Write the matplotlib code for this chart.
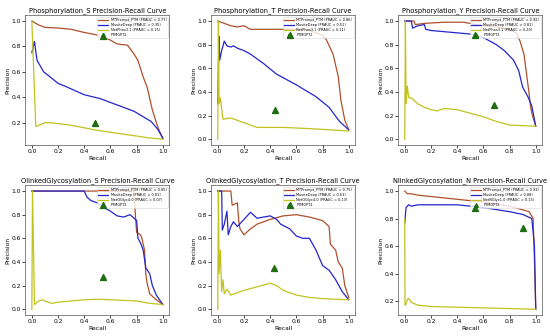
import matplotlib
matplotlib.use("Agg")
from matplotlib import pyplot as plt

# названия панелей и легенды
titles = ['Phosphorylation_S', 'Phosphorylation_T', 'Phosphorylation_Y',
          'OlinkedGlycosylation_S', 'OlinkedGlycosylation_T', 'NlinkedGlycosylation_N']
third_tool = ['NetPhos3.1', 'NetPhos3.1', 'NetPhos3.1',
              'NetOGlyc4.0', 'NetOGlyc4.0', 'NetNGlyc1.0']
auc_mtp = [0.77, 0.86, 0.92, 0.85, 0.75, 0.93]
auc_musite = [0.35, 0.51, 0.81, 0.81, 0.63, 0.88]
auc_third = [0.15, 0.11, 0.20, 0.07, 0.13, 0.15]

# MTPrompt_PTM (recall, precision)
mtp_r = [
    [0, 0.05, 0.1, 0.2, 0.3, 0.4, 0.5, 0.55, 0.6, 0.65, 0.73, 0.78, 0.81, 0.85, 0.88, 0.92, 0.96, 1.0],
    [0, 0.05, 0.1, 0.15, 0.2, 0.25, 0.4, 0.6, 0.7, 0.8, 0.83, 0.88, 0.92, 0.94, 0.97, 1.0],
    [0, 0.07, 0.08, 0.15, 0.3, 0.45, 0.5, 0.6, 0.7, 0.8, 0.85, 0.88, 0.91, 0.93, 0.95, 0.96, 0.97, 1.0],
    [0, 0.5, 0.78, 0.79, 0.8, 0.83, 0.84, 0.86, 0.87, 0.88, 0.9, 0.95, 1.0],
    [0, 0.1, 0.11, 0.15, 0.16, 0.17, 0.2, 0.25, 0.3, 0.4, 0.5, 0.6, 0.7, 0.8, 0.85, 0.86, 0.9, 0.92, 0.95, 0.97, 1.0],
    [0, 0.02, 0.05, 0.1, 0.2, 0.4, 0.6, 0.8, 0.95, 0.98, 0.99, 1.0],
]
mtp_p = [
    [1.0, 0.97, 0.95, 0.945, 0.935, 0.91, 0.89, 0.87, 0.85, 0.82, 0.81, 0.74, 0.69, 0.56, 0.48, 0.3, 0.17, 0.07],
    [1.0, 0.98, 0.96, 0.95, 0.96, 0.93, 0.93, 0.93, 0.92, 0.88, 0.84, 0.72, 0.53, 0.33, 0.16, 0.08],
    [1.0, 1.0, 0.97, 0.98, 0.99, 0.99, 0.98, 0.96, 0.95, 0.93, 0.9, 0.83, 0.72, 0.55, 0.38, 0.28, 0.22, 0.11],
    [1.0, 1.0, 1.0, 0.8, 0.65, 0.63, 0.6, 0.5, 0.3, 0.22, 0.13, 0.08, 0.04],
    [1.0, 1.0, 0.88, 0.9, 0.75, 0.68, 0.63, 0.68, 0.72, 0.76, 0.79, 0.8, 0.78, 0.75, 0.7, 0.55, 0.5, 0.4, 0.35, 0.2, 0.1],
    [1.0, 0.98, 0.98, 0.97, 0.96, 0.94, 0.92, 0.89, 0.85, 0.8, 0.5, 0.14],
]

# MusiteDeep
mus_r = [
    [0, 0.02, 0.03, 0.04, 0.09, 0.14, 0.2, 0.27, 0.4, 0.52, 0.65, 0.78, 0.91, 0.96, 1.0],
    [0, 0.01, 0.015, 0.03, 0.05, 0.07, 0.1, 0.12, 0.15, 0.2, 0.25, 0.35, 0.45, 0.6, 0.75, 0.85, 0.93, 1.0],
    [0, 0.05, 0.06, 0.1, 0.15, 0.16, 0.2, 0.3, 0.4, 0.5, 0.6, 0.7, 0.76, 0.83, 0.87, 0.9, 0.94, 0.97, 1.0],
    [0, 0.4, 0.42, 0.45, 0.5, 0.55, 0.6, 0.65, 0.7, 0.75, 0.8, 0.81, 0.83, 0.85, 0.87, 0.9, 0.92, 0.95, 1.0],
    [0, 0.03, 0.035, 0.05, 0.07, 0.08, 0.1, 0.12, 0.15, 0.2, 0.25, 0.3, 0.35, 0.4, 0.45, 0.48, 0.55, 0.6, 0.65, 0.7, 0.75, 0.8, 0.85, 0.9, 0.95, 1.0],
    [0, 0.01, 0.03, 0.05, 0.1, 0.2, 0.4, 0.6, 0.8, 0.9, 0.97, 0.99, 1.0],
]
mus_p = [
    [0.75, 0.84, 0.76, 0.69, 0.6, 0.56, 0.51, 0.48, 0.42, 0.39, 0.34, 0.29, 0.21, 0.15, 0.08],
    [0.3, 0.87, 0.67, 0.75, 0.83, 0.79, 0.78, 0.79, 0.77, 0.75, 0.72, 0.64, 0.55, 0.46, 0.36, 0.27, 0.15, 0.08],
    [1.0, 1.0, 0.94, 0.96, 0.97, 0.93, 0.92, 0.91, 0.9, 0.89, 0.86, 0.8, 0.75, 0.67, 0.58, 0.44, 0.36, 0.28, 0.11],
    [1.0, 1.0, 0.95, 0.92, 0.9, 0.86, 0.83, 0.79, 0.78, 0.8, 0.75, 0.6, 0.56, 0.5, 0.35, 0.3, 0.2, 0.12, 0.04],
    [1.0, 1.0, 0.67, 0.72, 0.83, 0.63, 0.7, 0.74, 0.7, 0.76, 0.82, 0.77, 0.78, 0.79, 0.76, 0.72, 0.68, 0.62, 0.6, 0.6, 0.5, 0.37, 0.33, 0.25, 0.15, 0.08],
    [0.77, 0.88, 0.9, 0.89, 0.9, 0.9, 0.9, 0.88, 0.85, 0.83, 0.8, 0.6, 0.14],
]

# NetPhos / NetOGlyc / NetNGlyc
thr_r = [
    [0, 0.03, 0.1, 0.15, 0.3, 0.5, 0.7, 0.9, 1.0],
    [0, 0.005, 0.01, 0.02, 0.04, 0.1, 0.15, 0.2, 0.3, 0.5, 0.7, 1.0],
    [0, 0.005, 0.01, 0.02, 0.03, 0.05, 0.1, 0.15, 0.2, 0.25, 0.3, 0.4, 0.5, 0.6, 0.7, 0.8, 0.9, 1.0],
    [0, 0.005, 0.02, 0.05, 0.08, 0.1, 0.15, 0.2, 0.3, 0.4, 0.5, 0.6, 0.7, 0.8, 0.9, 1.0],
    [0, 0.005, 0.01, 0.02, 0.03, 0.04, 0.05, 0.07, 0.1, 0.15, 0.2, 0.3, 0.4, 0.45, 0.5, 0.6, 0.7, 0.8, 1.0],
    [0, 0.002, 0.005, 0.02, 0.03, 0.05, 0.1, 0.2, 0.4, 0.6, 0.8, 1.0],
]
thr_p = [
    [1.0, 0.17, 0.2, 0.2, 0.18, 0.14, 0.11, 0.08, 0.07],
    [0.0, 1.0, 0.3, 0.35, 0.17, 0.18, 0.16, 0.14, 0.1, 0.1, 0.09, 0.07],
    [0.0, 1.0, 0.3, 0.45, 0.35, 0.35, 0.3, 0.27, 0.25, 0.24, 0.26, 0.25, 0.22, 0.19, 0.15, 0.12, 0.115, 0.11],
    [0.0, 1.0, 0.04, 0.07, 0.08, 0.07, 0.05, 0.06, 0.07, 0.08, 0.085, 0.08, 0.075, 0.07, 0.05, 0.04],
    [0.0, 1.0, 0.3, 0.5, 0.15, 0.25, 0.13, 0.17, 0.12, 0.14, 0.16, 0.19, 0.22, 0.2, 0.16, 0.12, 0.1, 0.09, 0.08],
    [0.8, 0.17, 0.17, 0.21, 0.22, 0.19, 0.17, 0.16, 0.155, 0.15, 0.145, 0.14],
]

# PTMGPT2 (две точки на каждой панели)
gpt_r = [[0.54, 0.48], [0.55, 0.44], [0.54, 0.68], [0.54, 0.54], [0.55, 0.43], [0.54, 0.9]]
gpt_p = [[0.88, 0.2], [0.88, 0.25], [0.88, 0.29], [0.88, 0.27], [0.88, 0.35], [0.88, 0.73]]

fig = plt.figure(figsize=(5.5, 3.36), dpi=100)
lefts = [0.046, 0.384, 0.724]
bottoms = [0.568, 0.062]

for q in range(6):
    ax = fig.add_axes([lefts[q % 3], bottoms[q // 3], 0.262, 0.387])
    ax.plot(mtp_r[q], mtp_p[q], color='#b0502a', lw=0.9,
            label='MTPrompt_PTM (PRAUC = {:.2f})'.format(auc_mtp[q]))
    ax.plot(mus_r[q], mus_p[q], color='#2525cc', lw=0.9,
            label='MusiteDeep (PRAUC = {:.2f})'.format(auc_musite[q]))
    ax.plot(thr_r[q], thr_p[q], color='#c2c21e', lw=0.9,
            label='{} (PRAUC = {:.2f})'.format(third_tool[q], auc_third[q]))
    ax.scatter(gpt_r[q], gpt_p[q], marker='^', color='#1f6e12', s=18, zorder=7, label='PTMGPT2')
    ax.set_title('{} Precision-Recall Curve'.format(titles[q]), fontsize=4.8, pad=2)
    ax.set_xlabel('Recall', fontsize=4.3, labelpad=1)
    ax.set_ylabel('Precision', fontsize=4.3, labelpad=1)
    ax.tick_params(labelsize=4.3, length=2, width=0.5, pad=1)
    for s in ax.spines.values():
        s.set_linewidth(0.5)
        s.set_color('#555555')
    leg = ax.legend(loc='upper right', fontsize=2.5, handlelength=2.8, borderpad=0.35,
                    labelspacing=0.25, framealpha=0.8, edgecolor='#cccccc',
                    markerscale=0.6, scatterpoints=1)
    leg.get_frame().set_linewidth(0.4)
    leg.set_zorder(6)

plt.savefig('out.png', dpi=100)
